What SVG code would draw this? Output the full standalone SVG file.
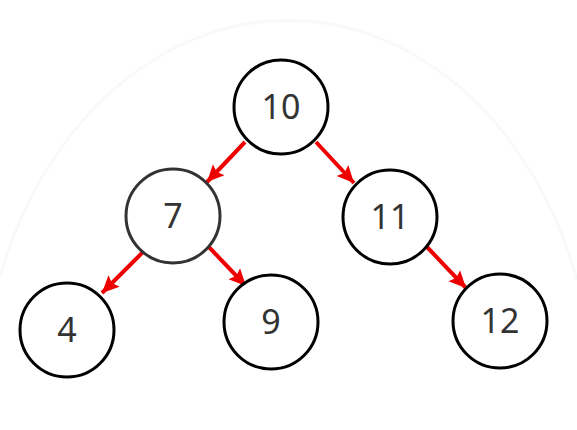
<svg xmlns="http://www.w3.org/2000/svg" width="577" height="430" viewBox="0 0 577 430">
  <defs>
    <style>
      .node circle { fill: #ffffff; stroke: #000000; stroke-width: 3; }
      .node text { font-family: "Noto Sans", "Open Sans", "DejaVu Sans", sans-serif; font-size: 34px; fill: #333333; text-anchor: middle; }
      .edge { stroke: #ee0000; stroke-width: 4; fill: none; marker-end: url(#arrow); }
    </style>
    <marker id="arrow" markerUnits="userSpaceOnUse" markerWidth="18" markerHeight="18" viewBox="0 0 18 18" refX="17" refY="9" orient="auto">
      <path d="M0,1 L17,9 L0,17 L3,9 Z" fill="#ee0000"/>
    </marker>
  </defs>
  <rect width="577" height="430" fill="#ffffff"/>
  <path d="M0,277 A306,387 0 0 1 577,280" fill="none" stroke="#f8f9f9" stroke-width="3"/>
  <g id="connectors">
    <line class="edge" x1="245" y1="142" x2="207" y2="182"/>
    <line class="edge" x1="316" y1="142" x2="354" y2="183"/>
    <line class="edge" x1="143" y1="252" x2="102" y2="293"/>
    <line class="edge" x1="206" y1="244" x2="246" y2="286"/>
    <line class="edge" x1="427" y1="247" x2="466" y2="288"/>
  </g>
  <g id="node-10" class="node">
    <circle cx="281" cy="107" r="47"/>
    <text x="281" y="119">10</text>
  </g>
  <g id="node-7" class="node">
    <circle cx="173" cy="216" r="47" style="stroke:#333333"/>
    <text x="173" y="228">7</text>
  </g>
  <g id="node-11" class="node">
    <circle cx="390" cy="217" r="47"/>
    <text x="390" y="229">11</text>
  </g>
  <g id="node-4" class="node">
    <circle cx="67" cy="330" r="47"/>
    <text x="67" y="342">4</text>
  </g>
  <g id="node-9" class="node">
    <circle cx="271" cy="322" r="47"/>
    <text x="271" y="334">9</text>
  </g>
  <g id="node-12" class="node">
    <circle cx="500" cy="321" r="47"/>
    <text x="500" y="333">12</text>
  </g>
</svg>
